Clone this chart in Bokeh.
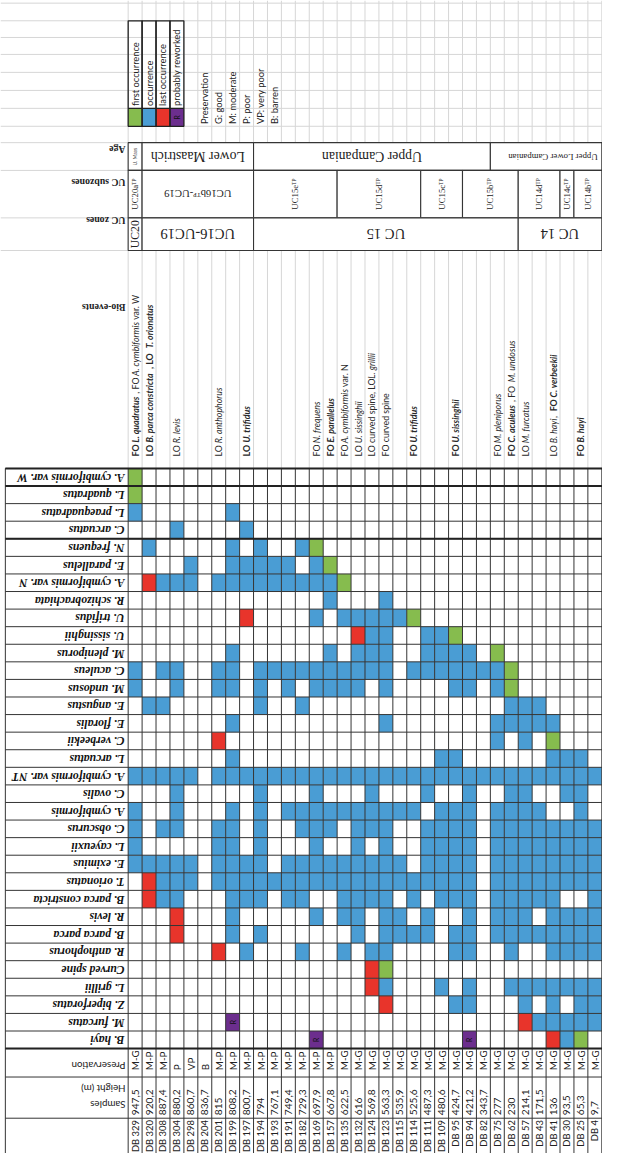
import math
from bokeh.plotting import figure
from bokeh.models import Range1d, ColumnDataSource
from bokeh.core.properties import value
from bokeh.embed import file_html
from bokeh.resources import INLINE

# ---------------- data ----------------
samples = ["DB 329", "DB 320", "DB 308", "DB 304", "DB 298", "DB 204", "DB 201", "DB 199",
           "DB 197", "DB 194", "DB 193", "DB 191", "DB 182", "DB 169", "DB 157", "DB 135",
           "DB 132", "DB 124", "DB 123", "DB 115", "DB 114", "DB 111", "DB 109", "DB 95",
           "DB 94", "DB 82", "DB 75", "DB 62", "DB 57", "DB 43", "DB 41", "DB 30", "DB 25", "DB 4"]
heights = [947.5, 920.2, 887.4, 880.2, 860.7, 836.7, 815, 808.2, 800.7, 794, 767.1, 749.4,
           729.3, 697.9, 667.8, 622.5, 616, 569.8, 563.3, 535.9, 525.6, 487.3, 480.6, 424.7,
           421.2, 343.7, 277, 230, 214.1, 171.5, 136, 93.5, 65.3, 9.7]
preservation = ["M-G", "M-P", "M-P", "P", "VP", "B", "M-P", "M-P", "M-P", "M-P", "M-P", "M-P",
                "M-P", "M-P", "M-P", "M-G", "M-G", "M-G", "M-G", "M-G", "M-G", "M-G", "M-G",
                "M-G", "M-G", "M-G", "M-G", "M-G", "M-G", "M-G", "M-G", "M-G", "M-G", "M-G"]

species = ["A. cymbiformis var. W", "L. quadratus", "L. praequadratus", "C. arcuatus",
           "N. frequens", "E. parallelus", "A. cymbiformis var. N", "R. schizobrachiata",
           "U. trifidus", "U. sissinghii", "M. pleniporus", "C. aculeus", "M. undosus",
           "E. angustus", "E. floralis", "C. verbeekii", "L. arcuatus", "A. cymbiformis var. NT",
           "C. ovalis", "A. cymbiformis", "C. obscurus", "L. cayeuxii", "E. eximius",
           "T. orionatus", "B. parca constricta", "R. levis", "B. parca parca", "R. anthophorus",
           "Curved spine", "L. grillii", "Z. biperforatus", "M. furcatus", "B. hayi"]

# f first occurrence, o occurrence, l last occurrence, r probably reworked, . absent
occurrence = [
    "f.........|..........|..........|....",
    "f.........|..........|..........|....",
    "o......o..|..........|..........|....",
    "...o....o.|..........|..........|....",
    ".o.....o.o|..of......|..........|....",
    "....o..ooo|oo.of.....|..........|....",
    ".looo.oooo|ooooof....|..........|....",
    "..........|....o...o.|..........|....",
    "........l.|...o.ooooo|f.........|....",
    "..........|......loo.|.oof......|....",
    ".......o..|....o.ooo.|.oooo.f...|....",
    "o.oo..oo.o|ooooooooo.|ooooooof..|....",
    "o..o..oo.o|.o.oooo.o.|...oo.of..|....",
    ".oo......o|..o.......|.......ooo|....",
    ".......o..|........o.|......oooo|o...",
    "......l...|..........|......o.o.|f...",
    ".......o..|..........|..oo......|ooo.",
    "ooooo.oooo|oooooooooo|oooooooooo|oooo",
    "...o.....o|...o...o..|.o..o..oo.|.oo.",
    "o..o...o.o|.ooooooooo|o.ooo.oooo|..o.",
    "o.oo..oo.o|..ooo.ooo.|.oooo.oooo|oooo",
    "o.....oo.o|...o..o.o.|.oooo.oooo|oooo",
    "ooooo.oooo|.ooooooooo|.oooo.oooo|oooo",
    ".looo.oooo|oooooooooo|ooooo.oooo|oooo",
    ".loo...ooo|.oo..oooo.|o.ooo.oooo|o..o",
    "...l...o..|...o.oo.oo|.o..o.ooo.|oooo",
    "...l...o.o|......o.oo|oo.oo.oooo|oooo",
    "......l.o.|..o..o.oo.|...oo..o..|oooo",
    "..........|.......lf.|..........|....",
    "..........|.......lo.|..o.o..ooo|oooo",
    "..........|........l.|...oo...o.|o.oo",
    ".......r..|..........|........lo|oooo",
    "..........|...r......|....r.....|lof.",
]

age_labels = ["U. Maas", "Lower Maastrich", "Upper Campanian", "Upper Lower Campanian"]
age_start = [0, 1, 9, 26]
age_end = [1, 9, 26, 34]
subzone_labels = ["UC20a", "UC16b", "UC15e", "UC15d", "UC15c", "UC15b", "UC14d", "UC14c", "UC14b"]
subzone_start = [0, 1, 9, 15, 21, 24, 28, 31, 32]
subzone_end = [1, 9, 15, 21, 24, 28, 31, 32, 34]
zone_labels = ["UC20", "UC16-UC19", "UC 15", "UC 14"]
zone_start = [0, 1, 9, 28]
zone_end = [1, 9, 28, 34]

# bio-events: column, list of (text, weight) segments
bio_cols = [0, 1, 3, 6, 8, 13, 14, 15, 16, 17, 18, 20, 23, 26, 27, 28, 30, 32]
bio_texts = [
    [("FO ", "bold"), ("L. quadratus", "bold italic"), (", FO ", "normal"), ("A. cymbiformis", "italic"), (" var. W", "normal")],
    [("LO ", "bold"), ("B. parca constricta", "bold italic"), (" , LO ", "bold"), ("T. orionatus", "bold italic")],
    [("LO ", "normal"), ("R. levis", "italic")],
    [("LO ", "normal"), ("R. anthophorus", "italic")],
    [("LO ", "bold"), ("U. trifidus", "bold italic")],
    [("FO ", "normal"), ("N. frequens", "italic")],
    [("FO ", "bold"), ("E. parallelus", "bold italic")],
    [("FO ", "normal"), ("A. cymbiformis", "italic"), (" var. N", "normal")],
    [("LO ", "normal"), ("U. sissinghii", "italic")],
    [("LO curved spine, LO ", "normal"), ("L. grillii", "italic")],
    [("FO curved spine", "normal")],
    [("FO ", "bold"), ("U. trifidus", "bold italic")],
    [("FO ", "bold"), ("U. sissinghii", "bold italic")],
    [("FO ", "normal"), ("M. pleniporus", "italic")],
    [("FO ", "bold"), ("C. aculeus", "bold italic"), (" , FO ", "normal"), ("M. undosus", "italic")],
    [("LO ", "normal"), ("M. furcatus", "italic")],
    [("LO ", "normal"), ("B. hayi", "italic"), (" , ", "normal"), ("FO ", "bold"), ("C. verbeekii", "bold italic")],
    [("FO ", "bold"), ("B. hayi", "bold italic")],
]

legend_labels = ["first occurrence", "occurrence", "last occurrence", "probably reworked"]
legend_codes = ["f", "o", "l", "r"]
pres_legend = ["Preservation", "G: good", "M: moderate", "P: poor", "VP: very poor", "B: barren"]

colors = {"f": "#86BC4E", "o": "#4A9DD4", "l": "#E8342B", "r": "#6C2E8E"}

# ---------------- layout helpers (reference pixel -> data units) ----------------
X0, CW, Y0, RH = 131.7, 14.37, 477.3, 17.93
def gx(px):
    return (px - X0) / CW
def gy(py):
    return (py - Y0) / RH
FS = 0.975
def fs(v):
    return "%.1fpx" % (v * FS)

NC = len(samples)
NR = len(species)
DARK = "#353535"
LIGHT = "#d6d6d6"
SANS = value("Lato")
SERIF = value("Liberation Serif")

p = figure(width=602, height=1153, x_range=Range1d(gx(0), gx(621)),
           y_range=Range1d(gy(1176), gy(0)), output_backend="svg", toolbar_location=None,
           x_axis_location=None, y_axis_location=None, min_border=0,
           background_fill_color="white", border_fill_color="white")
p.outline_line_color = None
p.grid.visible = False

# Excel light gridlines in header area
top_rows = [2.7, 20.7, 37.7, 55.0, 73.3, 91.7, 110.0, 128.3, 145.0, 173.3, 221.7, 255.0]
p.segment(x0=[gx(0)] * len(top_rows), x1=[gx(621)] * len(top_rows),
          y0=[gy(v) for v in top_rows], y1=[gy(v) for v in top_rows], line_color=LIGHT, line_width=1)
p.segment(x0=list(range(NC + 1)), x1=list(range(NC + 1)), y0=[gy(0)] * (NC + 1),
          y1=[0] * (NC + 1), line_color=LIGHT, line_width=1)

# ---------------- legend ----------------
lg_top, lg_sq, lg_bot = gy(20.7), gy(110.0), gy(128.3)
lx = list(range(len(legend_labels)))
p.quad(left=lx, right=[v + 1 for v in lx], top=[lg_sq] * 4, bottom=[lg_bot] * 4,
       fill_color=[colors[c] for c in legend_codes], line_color=None)
p.quad(left=lx, right=[v + 1 for v in lx], top=[lg_top] * 4, bottom=[lg_bot] * 4,
       fill_color=None, line_color="#222222", line_width=1.3)
p.segment(x0=[0], x1=[4], y0=[lg_sq], y1=[lg_sq], line_color="#222222", line_width=1.3)
p.text(x=[v + 0.5 for v in lx], y=[gy(107.5)] * 4, text=legend_labels, angle=math.pi / 2,
       text_align="left", text_baseline="middle", text_font=SANS, text_font_size=fs(9.5),
       text_color="#222222")
p.text(x=[3.5], y=[gy(119.2)], text=["R"], angle=math.pi / 2, text_align="center",
       text_baseline="middle", text_font=SANS, text_font_size=fs(7), text_color="#111111")
px_ = [5 + i + 0.5 for i in range(len(pres_legend))]
p.text(x=px_, y=[gy(126)] * len(px_), text=pres_legend, angle=math.pi / 2, text_align="left",
       text_baseline="middle", text_font=SANS, text_font_size=fs(9.5), text_color="#222222")

# ---------------- header table ----------------
hdr = [(gy(145.0), gy(173.3)), (gy(173.3), gy(221.7)), (gy(221.7), gy(255.0))]
for (t, b), st, en in [(hdr[0], age_start, age_end), (hdr[1], subzone_start, subzone_end),
                       (hdr[2], zone_start, zone_end)]:
    p.quad(left=st, right=en, top=[t] * len(st), bottom=[b] * len(st), fill_color="white",
           line_color=DARK, line_width=1.1)

def mid(a, b):
    return [(x + y) / 2 for x, y in zip(a, b)]

age_mid = mid(age_start, age_end)
agey = (hdr[0][0] + hdr[0][1]) / 2
p.text(x=[age_mid[0]], y=[agey], text=[age_labels[0]], angle=math.pi / 2, text_align="center",
       text_baseline="middle", text_font=SANS, text_font_size=fs(5), text_color="#333333")
p.text(x=age_mid[1:3], y=[agey] * 2, text=age_labels[1:3], angle=math.pi, text_align="center",
       text_baseline="middle", text_font=SERIF, text_font_size=fs(14), text_color="#222222")
p.text(x=[gx(616)], y=[agey], text=[age_labels[3]], angle=math.pi, text_align="left",
       text_baseline="middle", text_font=SERIF, text_font_size=fs(9), text_color="#222222")

sub_mid = mid(subzone_start, subzone_end)
suby = (hdr[1][0] + hdr[1][1]) / 2
rot_idx = [i for i in range(len(subzone_labels)) if i != 1]
p.text(x=[sub_mid[i] for i in rot_idx], y=[suby] * len(rot_idx),
       text=[subzone_labels[i] + "ᵀᴾ" for i in rot_idx], angle=math.pi / 2,
       text_align="center", text_baseline="middle", text_font=SERIF, text_font_size=fs(9),
       text_color="#222222")
p.text(x=[sub_mid[1]], y=[suby], text=[subzone_labels[1] + "ᵀᴾ-UC19"], angle=math.pi,
       text_align="center", text_baseline="middle", text_font=SERIF, text_font_size=fs(11),
       text_color="#222222")

zone_mid = mid(zone_start, zone_end)
zoney = (hdr[2][0] + hdr[2][1]) / 2
p.text(x=[zone_mid[0]], y=[zoney], text=[zone_labels[0]], angle=math.pi / 2, text_align="center",
       text_baseline="middle", text_font=SERIF, text_font_size=fs(12), text_color="#222222")
p.text(x=[zone_mid[1], zone_mid[2], gx(577)], y=[zoney] * 3, text=zone_labels[1:], angle=math.pi,
       text_align="center", text_baseline="middle", text_font=SERIF, text_font_size=fs(15),
       text_color="#222222")

# row labels for header / bottom (upside down)
side_labels = ["Age", "UC subzones", "UC zones", "Bio-events"]
side_y = [gy(152), gy(186), gy(224), gy(313)]
p.text(x=[gx(129)] * 4, y=side_y, text=side_labels, angle=math.pi, text_align="left",
       text_baseline="middle", text_font=SERIF, text_font_style="bold", text_font_size=fs(10),
       text_color="#222222")

# ---------------- bio-events ----------------
def seg_width(s, style, size=9.0):
    w = 0.0
    for ch in s:
        if ch in " .,il|!'":
            w += 0.25
        elif ch in "ftrjI-":
            w += 0.33
        elif ch in "mwMW":
            w += 0.8
        elif ch.isupper():
            w += 0.62
        else:
            w += 0.5
    if "bold" in style:
        w *= 1.05
    return w * size

bx, by, bt, bs = [], [], [], []
for col, segs in zip(bio_cols, bio_texts):
    pos = 465.0
    for txt, style in segs:
        bx.append(col + 0.5)
        by.append(gy(pos))
        bt.append(txt)
        bs.append(style)
        pos -= seg_width(txt, style)
bio_src = ColumnDataSource(dict(x=bx, y=by, text=bt, style=bs))
p.text(x="x", y="y", text="text", text_font_style="style", source=bio_src, angle=math.pi / 2,
       text_align="left", text_baseline="middle", text_font=SANS, text_font_size=fs(9),
       text_color="#2a2a2a")

# ---------------- occurrence grid ----------------
cl, cr, ct, cb, cc = [], [], [], [], []
for r, row in enumerate(occurrence):
    codes = row.replace("|", "")
    for k, c in enumerate(codes):
        if c != ".":
            cl.append(k); cr.append(k + 1); ct.append(r); cb.append(r + 1); cc.append(colors[c])
p.quad(left=cl, right=cr, top=ct, bottom=cb, fill_color=cc, line_color=None)

# reworked "R" marks
rx, ry = [], []
for r, row in enumerate(occurrence):
    for k, c in enumerate(row.replace("|", "")):
        if c == "r":
            rx.append(k + 0.5); ry.append(r + 0.5)
p.text(x=rx, y=ry, text=["R"] * len(rx), angle=math.pi / 2, text_align="center",
       text_baseline="middle", text_font=SANS, text_font_size=fs(7), text_color="#111111")

# bottom rows
pres_bot = gy(1098)
hgt_bot = gy(1140)
samp_bot = gy(1180)

# grid lines
hy = list(range(NR + 1)) + [pres_bot, hgt_bot]
p.segment(x0=[gx(5)] * len(hy), x1=[NC + 1] * len(hy), y0=hy, y1=hy, line_color=DARK, line_width=1)
vx = list(range(NC + 1))
p.segment(x0=vx, x1=vx, y0=[0] * len(vx), y1=[samp_bot] * len(vx), line_color=DARK, line_width=1)
p.segment(x0=[gx(5)], x1=[gx(5)], y0=[0], y1=[samp_bot], line_color=DARK, line_width=1)
thick_y = [0, 1, 4, NR]
p.segment(x0=[gx(5)] * len(thick_y), x1=[NC + 1] * len(thick_y), y0=thick_y, y1=thick_y,
          line_color="#222222", line_width=2)

# species labels (upside down)
p.text(x=[gx(128)] * NR, y=[r + 0.5 for r in range(NR)], text=species, angle=math.pi,
       text_align="left", text_baseline="middle", text_font=SERIF, text_font_style="bold italic",
       text_font_size=fs(12), text_color="#111111")

cx = [k + 0.5 for k in range(NC)]
p.text(x=cx, y=[gy(1091)] * NC, text=preservation, angle=math.pi / 2, text_align="left",
       text_baseline="middle", text_font=SANS, text_font_size=fs(10), text_color="#222222")
h_lab = [("%g" % h).replace(".", ",") for h in heights]
p.text(x=cx, y=[gy(1137)] * NC, text=h_lab, angle=math.pi / 2, text_align="left",
       text_baseline="middle", text_font=SANS, text_font_size=fs(10.5), text_color="#222222")
p.text(x=cx, y=[gy(1142)] * NC, text=samples, angle=math.pi / 2, text_align="right",
       text_baseline="middle", text_font=SANS, text_font_size=fs(9.6), text_color="#222222")

bottom_labels = ["Preservation", "Height (m)", "Samples"]
p.text(x=[gx(129)] * 3, y=[gy(1087), gy(1110), gy(1127)], text=bottom_labels, angle=math.pi,
       text_align="left", text_baseline="middle", text_font=SANS, text_font_size=fs(10),
       text_color="#222222")

open("out.html", "w").write(file_html(p, INLINE))
